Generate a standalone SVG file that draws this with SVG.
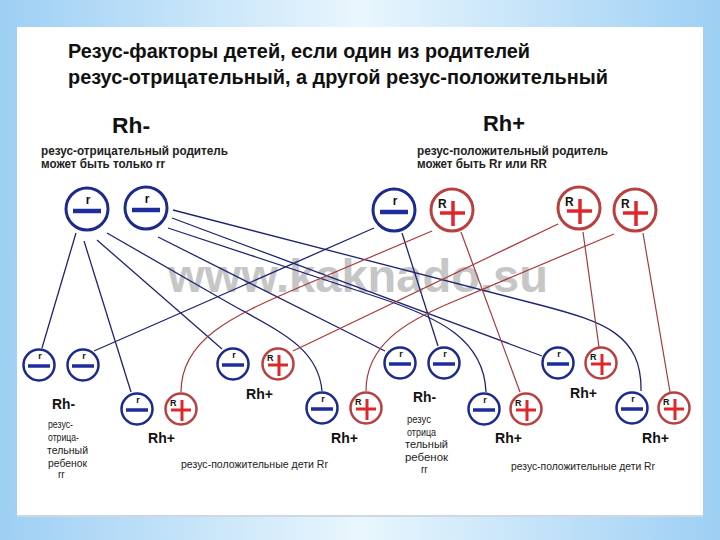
<svg xmlns="http://www.w3.org/2000/svg" width="720" height="540" viewBox="0 0 720 540">
<defs>
<linearGradient id="bg" x1="0" y1="0" x2="1" y2="0">
<stop offset="0" stop-color="#9dcff4"/>
<stop offset="0.5" stop-color="#e9f6fd"/>
<stop offset="1" stop-color="#9dcff4"/>
</linearGradient>
<style>
.t{font-family:"Liberation Sans",Arial,sans-serif;fill:#111}
.title{font-size:20px;font-weight:bold}
.rh{font-size:22px;font-weight:bold}
.sub{font-size:12px;font-weight:bold;fill:#222}
.cb{fill:#fff;stroke:#1b2a8c;stroke-width:3}
.cr{fill:#fff;stroke:#b8403e;stroke-width:3}
.cbs{fill:#fff;stroke:#1b2a8c;stroke-width:2.5}
.crs{fill:#fff;stroke:#b8403e;stroke-width:2.5}
.dash{stroke:#1d2d9e;stroke-width:4.5}
.dashs{stroke:#1d2d9e;stroke-width:3.5}
.plus{stroke:#e0262b;stroke-width:3.5}
.pluss{stroke:#e0262b;stroke-width:3}
.g{font-size:12px;font-weight:bold}
.gs{font-size:9px;font-weight:bold}
.lab{font-size:15px;font-weight:bold}
.sm{font-size:10px;fill:#222}
.lb{fill:none;stroke:#1e2470;stroke-width:1.3}
.lr{fill:none;stroke:#a9393b;stroke-width:1.2}
.wm{font-size:46px;font-weight:bold;fill:#c6c6c6}
</style>
</defs>
<rect x="0" y="0" width="720" height="540" fill="url(#bg)"/>
<rect x="17" y="29" width="686" height="488" fill="#cdd9e2"/>
<rect x="17" y="27" width="686" height="488" fill="#ffffff"/>

<g id="texts">
<text class="t title" x="68" y="58" textLength="462" lengthAdjust="spacingAndGlyphs">Резус-факторы детей, если один из родителей</text>
<text class="t title" x="68" y="84" textLength="540" lengthAdjust="spacingAndGlyphs">резус-отрицательный, а другой резус-положительный</text>
<text class="t rh" x="112" y="133" textLength="38" lengthAdjust="spacingAndGlyphs">Rh-</text>
<text class="t rh" x="483" y="131" textLength="42" lengthAdjust="spacingAndGlyphs">Rh+</text>
<text class="t sub" x="41" y="155" textLength="187" lengthAdjust="spacingAndGlyphs">резус-отрицательный родитель</text>
<text class="t sub" x="41" y="168" textLength="124" lengthAdjust="spacingAndGlyphs">может быть только rr</text>
<text class="t sub" x="417" y="155" textLength="191" lengthAdjust="spacingAndGlyphs">резус-положительный родитель</text>
<text class="t sub" x="417" y="168" textLength="130" lengthAdjust="spacingAndGlyphs">может быть Rr или RR</text>
<text class="t wm" x="168" y="292" textLength="380" lengthAdjust="spacingAndGlyphs">www.kaknado.su</text>
</g>

<g id="connectors">
<line class="lb" x1="76" y1="233" x2="42" y2="348"/>
<line class="lb" x1="84" y1="241" x2="131" y2="392"/>
<line class="lb" x1="97" y1="240" x2="222" y2="349"/>
<path class="lb" d="M107,233 L220,298 C275,330 318,345 322,391"/>
<line class="lb" x1="158" y1="237" x2="385" y2="351"/>
<path class="lb" d="M168,228 L380,298 C440,318 484,340 486,392"/>
<line class="lb" x1="172" y1="218" x2="542" y2="356"/>
<path class="lb" d="M173,210 L540,305 C605,322 642,335 641,391"/>
<line class="lb" x1="374" y1="228" x2="94" y2="351"/>
<line class="lb" x1="402" y1="233" x2="438" y2="346"/>
<path class="lr" d="M432,231 L300,287 C230,317 181,340 181,392"/>
<line class="lr" x1="461" y1="232" x2="520" y2="392"/>
<line class="lr" x1="558" y1="224" x2="293" y2="351"/>
<line class="lr" x1="583" y1="232" x2="599" y2="347"/>
<path class="lr" d="M614,234 L450,303 C405,322 366,345 366,391"/>
<line class="lr" x1="643" y1="233" x2="670" y2="392"/>
</g>

<g id="parent-b1"><circle class="cb" cx="87" cy="209" r="21"/><line class="dash" x1="73" y1="211" x2="101" y2="211"/><text class="t g" x="88" y="204" text-anchor="middle">r</text></g>
<g id="parent-b2"><circle class="cb" cx="146" cy="208" r="21"/><line class="dash" x1="132" y1="210" x2="160" y2="210"/><text class="t g" x="147" y="203" text-anchor="middle">r</text></g>
<g id="parent-b3"><circle class="cb" cx="394" cy="210" r="21"/><line class="dash" x1="380" y1="212" x2="408" y2="212"/><text class="t g" x="395" y="205" text-anchor="middle">r</text></g>
<g id="parent-r1"><circle class="cr" cx="452" cy="210" r="21"/><line class="plus" x1="440" y1="213" x2="465" y2="213"/><line class="plus" x1="453" y1="201" x2="453" y2="226"/><text class="t g" x="438" y="208">R</text></g>
<g id="parent-r2"><circle class="cr" cx="579" cy="208" r="21"/><line class="plus" x1="567" y1="211" x2="592" y2="211"/><line class="plus" x1="580" y1="199" x2="580" y2="224"/><text class="t g" x="565" y="206">R</text></g>
<g id="parent-r3"><circle class="cr" cx="635" cy="210" r="21"/><line class="plus" x1="623" y1="213" x2="648" y2="213"/><line class="plus" x1="636" y1="201" x2="636" y2="226"/><text class="t g" x="621" y="208">R</text></g>

<g id="child-1">
<circle class="cbs" cx="39" cy="365" r="15.5"/><line class="dashs" x1="28" y1="366" x2="50" y2="366"/><text class="t gs" x="40" y="359" text-anchor="middle">r</text>
<circle class="cbs" cx="83" cy="365" r="15.5"/><line class="dashs" x1="72" y1="366" x2="94" y2="366"/><text class="t gs" x="84" y="359" text-anchor="middle">r</text>
<text class="t lab" x="52" y="409" textLength="23" lengthAdjust="spacingAndGlyphs">Rh-</text>
<text class="t sm" x="48" y="428" textLength="25" lengthAdjust="spacingAndGlyphs">резус-</text>
<text class="t sm" x="48" y="441" textLength="31" lengthAdjust="spacingAndGlyphs">отрица-</text>
<text class="t sm" x="47" y="454" textLength="41" lengthAdjust="spacingAndGlyphs">тельный</text>
<text class="t sm" x="48" y="467" textLength="39" lengthAdjust="spacingAndGlyphs">ребенок</text>
<text class="t sm" x="58" y="478">rr</text>
</g>
<g id="child-2">
<circle class="cbs" cx="137" cy="409" r="15.5"/><line class="dashs" x1="126" y1="410" x2="148" y2="410"/><text class="t gs" x="138" y="403" text-anchor="middle">r</text>
<circle class="crs" cx="181" cy="409" r="15.5"/><line class="pluss" x1="171" y1="410" x2="191" y2="410"/><line class="pluss" x1="182" y1="400" x2="182" y2="421"/><text class="t gs" x="170" y="406">R</text>
<text class="t lab" x="148" y="443" textLength="27" lengthAdjust="spacingAndGlyphs">Rh+</text>
</g>
<g id="child-3">
<circle class="cbs" cx="233" cy="364" r="15.5"/><line class="dashs" x1="222" y1="365" x2="244" y2="365"/><text class="t gs" x="234" y="358" text-anchor="middle">r</text>
<circle class="crs" cx="278" cy="364" r="15.5"/><line class="pluss" x1="268" y1="365" x2="288" y2="365"/><line class="pluss" x1="279" y1="355" x2="279" y2="376"/><text class="t gs" x="267" y="361">R</text>
<text class="t lab" x="246" y="399" textLength="27" lengthAdjust="spacingAndGlyphs">Rh+</text>
</g>
<g id="child-4">
<circle class="cbs" cx="322" cy="408" r="15.5"/><line class="dashs" x1="311" y1="409" x2="333" y2="409"/><text class="t gs" x="323" y="402" text-anchor="middle">r</text>
<circle class="crs" cx="366" cy="408" r="15.5"/><line class="pluss" x1="356" y1="409" x2="376" y2="409"/><line class="pluss" x1="367" y1="399" x2="367" y2="420"/><text class="t gs" x="355" y="405">R</text>
<text class="t lab" x="331" y="443" textLength="27" lengthAdjust="spacingAndGlyphs">Rh+</text>
<text class="t sm" x="181" y="468" textLength="147" lengthAdjust="spacingAndGlyphs">резус-положительные дети Rr</text>
</g>
<g id="child-5">
<circle class="cbs" cx="400" cy="363" r="15.5"/><line class="dashs" x1="389" y1="364" x2="411" y2="364"/><text class="t gs" x="401" y="357" text-anchor="middle">r</text>
<circle class="cbs" cx="444" cy="363" r="15.5"/><line class="dashs" x1="433" y1="364" x2="455" y2="364"/><text class="t gs" x="445" y="357" text-anchor="middle">r</text>
<text class="t lab" x="413" y="402" textLength="23" lengthAdjust="spacingAndGlyphs">Rh-</text>
<text class="t sm" x="407" y="423" textLength="24" lengthAdjust="spacingAndGlyphs">резус</text>
<text class="t sm" x="407" y="436" textLength="29" lengthAdjust="spacingAndGlyphs">отрица</text>
<text class="t sm" x="405" y="448" textLength="43" lengthAdjust="spacingAndGlyphs">тельный</text>
<text class="t sm" x="405" y="461" textLength="43" lengthAdjust="spacingAndGlyphs">ребенок</text>
<text class="t sm" x="421" y="473">rr</text>
</g>
<g id="child-6">
<circle class="cbs" cx="484" cy="409" r="15.5"/><line class="dashs" x1="473" y1="410" x2="495" y2="410"/><text class="t gs" x="485" y="403" text-anchor="middle">r</text>
<circle class="crs" cx="526" cy="409" r="15.5"/><line class="pluss" x1="516" y1="410" x2="536" y2="410"/><line class="pluss" x1="527" y1="400" x2="527" y2="421"/><text class="t gs" x="515" y="406">R</text>
<text class="t lab" x="495" y="443" textLength="27" lengthAdjust="spacingAndGlyphs">Rh+</text>
</g>
<g id="child-7">
<circle class="cbs" cx="558" cy="363" r="15.5"/><line class="dashs" x1="547" y1="364" x2="569" y2="364"/><text class="t gs" x="559" y="357" text-anchor="middle">r</text>
<circle class="crs" cx="601" cy="363" r="15.5"/><line class="pluss" x1="591" y1="364" x2="611" y2="364"/><line class="pluss" x1="602" y1="354" x2="602" y2="375"/><text class="t gs" x="590" y="360">R</text>
<text class="t lab" x="570" y="398" textLength="27" lengthAdjust="spacingAndGlyphs">Rh+</text>
</g>
<g id="child-8">
<circle class="cbs" cx="632" cy="408" r="15.5"/><line class="dashs" x1="621" y1="409" x2="643" y2="409"/><text class="t gs" x="633" y="402" text-anchor="middle">r</text>
<circle class="crs" cx="674" cy="408" r="15.5"/><line class="pluss" x1="664" y1="409" x2="684" y2="409"/><line class="pluss" x1="675" y1="399" x2="675" y2="420"/><text class="t gs" x="663" y="405">R</text>
<text class="t lab" x="642" y="443" textLength="27" lengthAdjust="spacingAndGlyphs">Rh+</text>
<text class="t sm" x="511" y="470" textLength="144" lengthAdjust="spacingAndGlyphs">резус-положительные дети Rr</text>
</g>
</svg>
